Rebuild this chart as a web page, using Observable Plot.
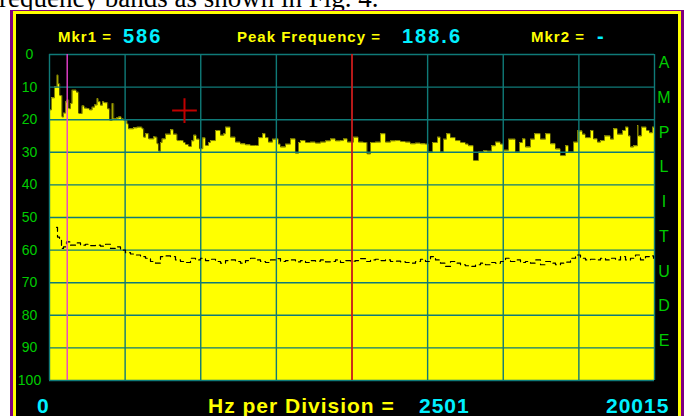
<!DOCTYPE html>
<html><head><meta charset="utf-8">
<script src="https://cdn.jsdelivr.net/npm/d3@7"></script>
<script src="https://cdn.jsdelivr.net/npm/@observablehq/plot@0.6"></script>
<style>
html,body{margin:0;padding:0;background:#fff}
body{width:688px;height:416px;overflow:hidden;position:relative;font-family:"Liberation Sans",Arial,sans-serif}
#frag{position:absolute;left:-1px;top:-15px;font-family:"Liberation Serif","Times New Roman",serif;font-size:27px;line-height:27px;color:#000;white-space:nowrap}
#purple{position:absolute;left:10px;top:10px;width:674px;height:420px;background:#800080}
#yel{position:absolute;left:13px;top:11px;width:668px;height:420px;background:#ffff00}
#blk{position:absolute;left:16px;top:14px;width:662px;height:420px;background:#000}
#chart{position:absolute;left:16px;top:14px}
.t{position:absolute;white-space:nowrap;font-weight:bold;line-height:1}
.y15{font-size:15px;color:#ffff00;letter-spacing:1px;top:29px}
.c20{font-size:20px;color:#00f0ff;letter-spacing:2px;top:26px}
.b21{font-size:21px;top:395px;letter-spacing:1px}
#amp{position:absolute;left:656px;top:0;width:16px}
#amp div{position:absolute;left:0;width:16px;text-align:center;font-size:16px;line-height:1;color:#00cc00}
</style></head>
<body>
<div id="frag">requency bands as shown in Fig. 4.</div>
<div id="purple"></div><div id="yel"></div><div id="blk"></div>
<div id="chart"></div>
<div class="t y15" style="left:58px">Mkr1 =</div>
<div class="t c20" style="left:123px" id="mkr1"></div>
<div class="t y15" style="left:237px">Peak Frequency =</div>
<div class="t c20" style="left:402px" id="peakf"></div>
<div class="t y15" style="left:531px">Mkr2 =</div>
<div class="t c20" style="left:597px" id="mkr2"></div>
<div class="t b21" style="left:37px;color:#00f0ff" id="xmin"></div>
<div class="t b21" style="left:208px;color:#ffff00">Hz per Division =</div>
<div class="t b21" style="left:419px;color:#00f0ff" id="hzdiv"></div>
<div class="t b21" style="left:606px;color:#00f0ff" id="xmax"></div>
<div id="amp"></div>
<script>
// ---- data ----
const mkr1Label = "586";
const peakLabel = "188.6";
const mkr2Label = "-";
const hzPerDivLabel = "2501";
const xMinLabel = "0";
const xMaxLabel = "20015";
const ampLetters = ["A","M","P","L","I","T","U","D","E"];

const fullScaleHz = 20015;
const divisions = [0,1,2,3,4,5,6,7,8];
const yTicks = [0,10,20,30,40,50,60,70,80,90,100];

const mkr1Hz = [586];
const cursorHz = [10008];
const crossPoint = [{hz: 4466, v: 17.2}];

// spectrum (top trace, filled) : frequency in Hz, amplitude value (0 top .. 100 bottom)
const specHz = [0,66,165,255,298,341,420,463,529,579,639,695,751,827,893,969,1082,1158,1247,1323,1413,1489,1578,1621,1687,1753,1819,1929,1995,2074,2127,2217,2293,2382,2458,2571,2614,2680,2779,2901,3011,3067,3120,3176,3285,3451,3507,3563,3616,3672,3728,3838,4003,4102,4225,4334,4433,4499,4608,4698,4774,4863,4962,5072,5161,5260,5326,5492,5601,5657,5766,5823,5988,6153,6319,6484,6650,6815,6914,7047,7146,7245,7377,7477,7576,7642,7808,7973,8138,8238,8304,8469,8635,8800,8966,9131,9296,9462,9627,9726,9859,10057,10223,10388,10511,10620,10785,10950,11116,11281,11447,11612,11778,11943,12108,12274,12439,12538,12671,12836,12935,13035,13134,13266,13432,13597,13763,13862,14027,14193,14358,14490,14623,14755,14920,15020,15185,15317,15417,15549,15648,15747,15913,16045,16244,16409,16575,16740,16905,17071,17170,17336,17468,17633,17732,17898,17997,18129,18229,18361,18460,18560,18659,18791,18957,19056,19155,19221,19321,19453,19486,19585,19751,19850,19949,20015];
const specVal = [17,13.3,10,6.4,9,12.6,19.2,18,14.6,14,16.6,15,11,11,11.6,18.1,15.8,16.5,16.6,17,16.2,15.5,13.6,14.5,15.6,14.6,14.8,16.7,20.2,15.1,19.7,19.5,19.2,19.8,20.2,21.3,22.8,22.8,22.5,22.3,22.3,22.8,25.4,24.3,25.9,25.2,25.4,27.4,29.7,27,25.9,24.5,23.1,24.5,26.4,26.4,27,27.6,28.2,26.5,24.8,26,28.9,25.6,27.9,27,26.4,23.3,23.3,24.8,24.3,22.3,25.4,26.9,27.4,27.7,27.9,27.9,25.5,24.3,25.5,26.9,26,25.9,27.5,28.4,27.5,25.9,30.3,27,26.4,27,26.9,27.2,26.9,26.5,25.9,26.5,26.4,25.9,26.9,25.4,26.9,27,30.5,27,26.9,24.3,26.9,26.5,26.4,26.7,26.9,27.4,27.2,27.4,27.5,30,27,25.4,30,26,24.3,25.5,26.4,27,27.5,28,32.5,30,29.5,29.7,28,26.9,27.5,29.4,26,26,30,27,25.9,28.4,26,24.3,26,24.3,27.4,29,31,28,30,26.9,23.5,24.5,25.5,23.3,25.9,26.9,26.4,25,25,26,22.8,24.5,23.3,22.3,25,28.4,28,21.8,25,22.3,23.3,24,22.3,23];

// lower trace (black, broken) : frequency in Hz, amplitude value
const traceHz = [232,265,331,397,463,562,695,860,1026,1191,1356,1522,1687,1853,2018,2183,2349,2514,2680,2845,3011,3176,3341,3507,3672,3838,4003,4168,4334,4499,4665,4830,4996,5161,5326,5492,5657,5823,5988,6153,6319,6484,6650,6815,6981,7146,7311,7477,7642,7808,7973,8138,8304,8469,8635,8800,8966,9131,9296,9462,9627,9793,9958,10123,10289,10454,10620,10785,10950,11116,11281,11447,11612,11778,11943,12108,12274,12439,12605,12770,12935,13101,13266,13432,13597,13763,13928,14093,14259,14424,14590,14755,14920,15086,15251,15417,15582,15747,15913,16078,16244,16409,16575,16740,16905,17071,17236,17402,17567,17732,17898,18063,18229,18394,18560,18725,18890,19056,19221,19387,19552,19717,19883,19982];
const traceVal = [53,56,56.5,59.5,59,57.5,58.5,57.8,58.5,58.2,58.6,58.5,58.8,58.2,59.5,59,60,60.8,61.2,61.5,62,62.5,63.5,64,62,61.8,62,63,63.5,63.8,62.5,63,62.5,63.2,62.8,63.5,64,63.2,63,63.5,64,63.2,62.5,63,63.5,63.8,63,62.6,63.5,63.2,63,63.6,63.2,63.8,63.2,63.4,63,63.6,63.5,63,63.8,63.2,63.4,63.2,62.6,63.5,63,62.8,63.2,63,63.5,63.4,63.6,63.8,64,63.5,62.8,63.5,62,63,64,65,63.5,64,64.5,64.8,65,64.5,64,64.5,63.8,64,63.5,62.5,63.5,63,63.8,63.5,64,63,64.5,63.5,64,64.5,64,63.7,62.5,61.5,62.5,63,62.8,63,62.5,63,62.5,63,62,63,62.5,61.5,63,62,61.8,62.5];

// ---- texts ----
document.getElementById("mkr1").textContent = mkr1Label;
document.getElementById("peakf").textContent = peakLabel;
document.getElementById("mkr2").textContent = mkr2Label;
document.getElementById("hzdiv").textContent = hzPerDivLabel;
document.getElementById("xmin").textContent = xMinLabel;
document.getElementById("xmax").textContent = xMaxLabel;
const amp = document.getElementById("amp");
ampLetters.forEach((c, i) => {
  const d = document.createElement("div");
  d.textContent = c;
  d.style.top = (63 + i * 34.75 - 7.8) + "px";
  amp.appendChild(d);
});

const spectrum = specHz.map((h, i) => ({hz: h, v: specVal[i]}));
const trace = traceHz.map((h, i) => ({hz: h, v: traceVal[i]}));
const grid = "#0f7a78";

const chart = Plot.plot({
  width: 662,
  height: 367,
  marginLeft: 33,
  marginRight: 24,
  marginTop: 40,
  marginBottom: 1,
  style: {background: "transparent", overflow: "visible", fontFamily: "'Liberation Sans', Arial, sans-serif"},
  x: {domain: [0, fullScaleHz], axis: null},
  y: {domain: [0, 100], reverse: true, axis: null},
  marks: [
    Plot.areaY(spectrum, {x: "hz", y1: () => 100, y2: "v", fill: "#ffff00", curve: "step-after"}),
    Plot.lineY(spectrum, {x: "hz", y: "v", stroke: "#5a5a00", strokeWidth: 0.8, curve: "step-after"}),
    Plot.ruleX(divisions, {x: d => d * fullScaleHz / 8, stroke: grid, strokeWidth: 1.4}),
    Plot.ruleY(yTicks, {y: d => d, stroke: grid, strokeWidth: 1.4}),
    Plot.lineY(trace, {x: "hz", y: "v", stroke: "#000", strokeWidth: 1.2, curve: "step-after", strokeDasharray: "5,4"}),
    Plot.ruleX(mkr1Hz, {x: d => d, stroke: "#e840d0", strokeWidth: 1.4}),
    Plot.ruleX(cursorHz, {x: d => d, stroke: "#ff0000", strokeWidth: 1.4}),
    Plot.dot(crossPoint, {x: "hz", y: "v", symbol: "plus", r: 8, stroke: "#c00000", strokeWidth: 2}),
    Plot.axisY(yTicks, {anchor: "left", tickSize: 0, tickPadding: 20, textAnchor: "middle", fill: "#00cc00", fontSize: 14, label: null, tickFormat: d => String(d)})
  ]
});
document.getElementById("chart").appendChild(chart);
</script>
</body></html>
